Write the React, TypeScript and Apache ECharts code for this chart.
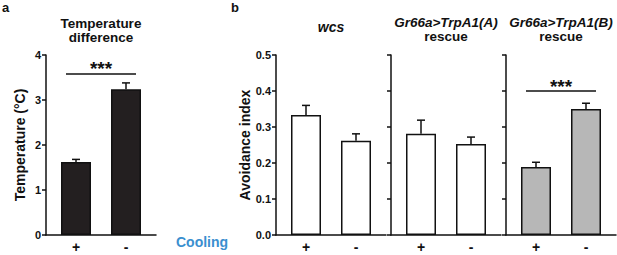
import React, { useEffect, useRef } from 'react';
import * as echarts from 'echarts';

// ---- data ----
const xCategories = ['+', '-'];
const tempValues = [1.62, 3.24];
const tempErrors = [0.06, 0.14];
const tempSigLevel = 3.58;
const wcsValues = [0.333, 0.262];
const wcsErrors = [0.027, 0.019];
const rescueAValues = [0.281, 0.253];
const rescueAErrors = [0.038, 0.019];
const rescueBValues = [0.189, 0.35];
const rescueBErrors = [0.013, 0.016];
const rescueBSigLevel = 0.4;
const sigText = '***';
const tempAxis = { min: 0, max: 4, interval: 1 };
const avoidAxis = { min: 0, max: 0.5, interval: 0.1 };

const FONT = "'Liberation Sans', Arial, Helvetica, sans-serif";
const INK = '#111111';

type Panel = {
  left: number;
  values: number[];
  errors: number[];
  axis: { min: number; max: number; interval: number };
  fill: string;
  showLabels: boolean;
  decimals: number;
  name: string;
  nameGap: number;
  sig: number | null;
};

const panels: Panel[] = [
  { left: 46, values: tempValues, errors: tempErrors, axis: tempAxis, fill: '#231f20', showLabels: true, decimals: 0, name: 'Temperature (°C)', nameGap: 19, sig: tempSigLevel },
  { left: 276, values: wcsValues, errors: wcsErrors, axis: avoidAxis, fill: '#ffffff', showLabels: true, decimals: 1, name: 'Avoidance index', nameGap: 18, sig: null },
  { left: 391, values: rescueAValues, errors: rescueAErrors, axis: avoidAxis, fill: '#ffffff', showLabels: false, decimals: 1, name: '', nameGap: 0, sig: null },
  { left: 506, values: rescueBValues, errors: rescueBErrors, axis: avoidAxis, fill: '#b7b7b7', showLabels: false, decimals: 1, name: '', nameGap: 0, sig: rescueBSigLevel },
];

export default function App() {
  const ref = useRef<HTMLDivElement>(null);
  useEffect(() => {
    document.body.style.margin = '0';
    const chart = echarts.init(ref.current!, null, { renderer: 'svg' });
    const grid: any[] = [];
    const xAxis: any[] = [];
    const yAxis: any[] = [];
    const series: any[] = [];
    const lineStyle = { color: INK, width: 1.5 };

    panels.forEach((p, i) => {
      const fi = i * 2;
      const di = i * 2 + 1;
      grid.push({ left: p.left, top: 55, width: 110, height: 180 });
      grid.push({ left: p.left + 5, top: 55, width: 100, height: 180 });
      xAxis.push({
        type: 'category', gridIndex: fi, data: [''],
        axisLine: { show: true, lineStyle },
        axisTick: { show: false }, axisLabel: { show: false },
      });
      xAxis.push({
        type: 'category', gridIndex: di, data: xCategories,
        axisLine: { show: false }, axisTick: { show: false },
        axisLabel: { color: INK, fontWeight: 'bold', fontSize: 14, margin: 5, fontFamily: FONT },
      });
      yAxis.push({
        type: 'value', gridIndex: fi, min: p.axis.min, max: p.axis.max, interval: p.axis.interval,
        axisLine: { show: true, lineStyle },
        axisTick: { show: true, length: 4, lineStyle },
        splitLine: { show: false },
        axisLabel: {
          show: p.showLabels, color: INK, fontWeight: 'bold', fontSize: 11, margin: 5, fontFamily: FONT,
          formatter: (v: number) => v.toFixed(p.decimals),
        },
        name: p.name, nameLocation: 'middle', nameGap: p.nameGap,
        nameTextStyle: { color: INK, fontSize: 14, fontFamily: FONT, fontWeight: 'bold' },
      });
      yAxis.push({ type: 'value', gridIndex: di, min: p.axis.min, max: p.axis.max, show: false });

      series.push({
        type: 'bar', xAxisIndex: di, yAxisIndex: di, data: p.values, barWidth: 30,
        itemStyle: { color: p.fill, borderColor: INK, borderWidth: 1.5 },
        silent: true,
      });
      series.push({
        type: 'custom', xAxisIndex: di, yAxisIndex: di, z: 3, silent: true,
        encode: { x: 0, y: [1, 2] },
        data: p.values.map((v, k) => [k, v, v + p.errors[k]]),
        renderItem: (_params: any, api: any) => {
          const base = api.coord([api.value(0), api.value(1)]);
          const top = api.coord([api.value(0), api.value(2)]);
          return {
            type: 'group',
            children: [
              { type: 'line', shape: { x1: base[0], y1: base[1], x2: top[0], y2: top[1] }, style: { stroke: INK, lineWidth: 1.5 } },
              { type: 'line', shape: { x1: top[0] - 4, y1: top[1], x2: top[0] + 4, y2: top[1] }, style: { stroke: INK, lineWidth: 1.5 } },
            ],
          };
        },
      });
      if (p.sig !== null) {
        series.push({
          type: 'custom', xAxisIndex: di, yAxisIndex: di, z: 3, silent: true,
          encode: { x: 0, y: 2 },
          data: [[0, 1, p.sig]],
          renderItem: (_params: any, api: any) => {
            const a = api.coord([api.value(0), api.value(2)]);
            const b = api.coord([api.value(1), api.value(2)]);
            return {
              type: 'group',
              children: [
                { type: 'line', shape: { x1: a[0] - 10, y1: a[1], x2: b[0] + 10, y2: b[1] }, style: { stroke: INK, lineWidth: 1.5 } },
                {
                  type: 'text', x: (a[0] + b[0]) / 2, y: a[1] - 5,
                  style: { text: sigText, fill: INK, font: `bold 19px ${FONT}`, align: 'center', verticalAlign: 'middle' },
                },
              ],
            };
          },
        });
      }
    });

    const txt = (text: string, x: number, y: number, size: number, opts: any = {}) => ({
      type: 'text', x, y, silent: true,
      style: {
        text, fill: opts.fill || INK, align: opts.align || 'center', verticalAlign: 'middle',
        font: `${opts.italic ? 'italic ' : ''}${opts.weight || 'bold'} ${size}px ${FONT}`,
      },
    });

    const graphic = [
      txt('a', 2, 7, 13, { align: 'left' }),
      txt('b', 231, 7, 13, { align: 'left' }),
      txt('Temperature', 101, 23, 13.5),
      txt('difference', 101, 37, 13.5),
      txt('wcs', 331, 27, 14, { italic: true }),
      txt('Gr66a>TrpA1(A)', 446, 22.5, 13.5, { italic: true }),
      txt('rescue', 446, 36.5, 13.5),
      txt('Gr66a>TrpA1(B)', 561, 22.5, 13.5, { italic: true }),
      txt('rescue', 561, 36.5, 13.5),
      txt('Cooling', 176, 242, 14, { align: 'left', fill: '#3a8fcf' }),
    ];

    chart.setOption({
      animation: false,
      backgroundColor: '#ffffff',
      textStyle: { fontFamily: FONT },
      grid, xAxis, yAxis, series, graphic,
    });
    return () => chart.dispose();
  }, []);
  return <div ref={ref} style={{ width: 617, height: 255 }} />;
}
